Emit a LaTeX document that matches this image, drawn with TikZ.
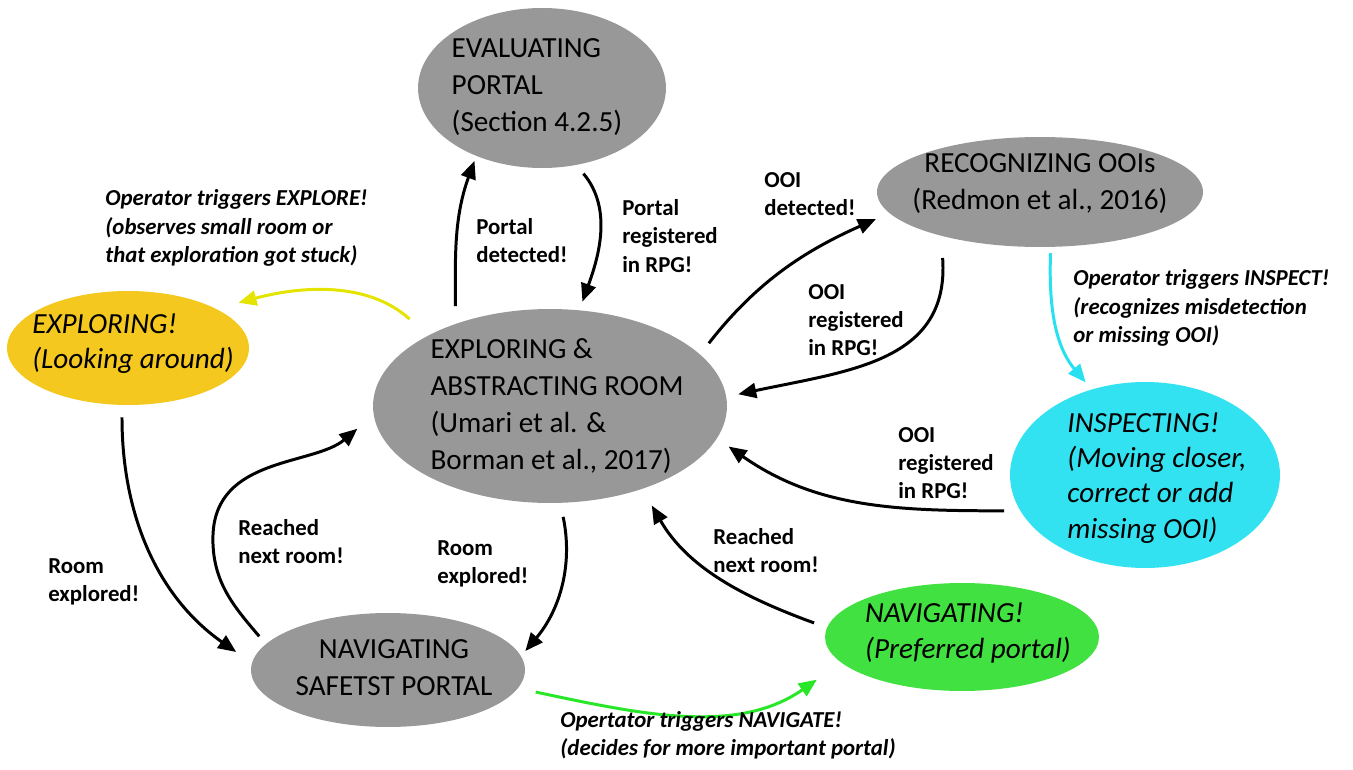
\documentclass[tikz,border=0pt]{standalone}
\usepackage{fontspec}
\setmainfont{Carlito}
\usetikzlibrary{shapes.geometric,arrows.meta}

\definecolor{stategray}{RGB}{152,152,152}
\definecolor{exploreyellow}{RGB}{244,200,30}
\definecolor{inspectcyan}{RGB}{50,226,240}
\definecolor{navgreen}{RGB}{64,225,64}
\definecolor{arrowyellow}{RGB}{228,228,0}
\definecolor{arrowcyan}{RGB}{40,225,240}
\definecolor{arrowgreen}{RGB}{40,230,40}

\tikzset{
	stateshape/.style={ellipse, draw=none, inner sep=0pt},
	statetext/.style={font=\fontsize{16.6}{21}\selectfont, align=left, inner sep=0pt},
	trans/.style={-{Triangle[length=0.36cm,width=0.3cm]}, line width=1.7pt},
	translabel/.style={font=\fontsize{13}{16}\selectfont\bfseries, align=left, anchor=west, inner sep=0pt},
	operatorlabel/.style={translabel, font=\fontsize{13}{16}\selectfont\bfseries\itshape},
}

\begin{document}
\begin{tikzpicture}[x=0.02cm, y=0.02cm]
		\useasboundingbox (0,0) rectangle (1353,769);

		\node[stateshape, fill=stategray, minimum width=4.96cm, minimum height=3.2cm] (eval) at (542,681) {};
		\node[statetext] (evaltext) at (537,682) {EVALUATING\\PORTAL\\(Section 4.2.5)};

		\node[stateshape, fill=stategray, minimum width=6.52cm, minimum height=2.2cm] (recog) at (1040,577) {};
		\node[statetext, align=center] (recogtext) at (1040,585) {RECOGNIZING OOIs\\(Redmon et al., 2016)};

		\node[stateshape, fill=exploreyellow, minimum width=4.84cm, minimum height=2.28cm] (explore) at (128,421) {};
		\node[statetext, font=\fontsize{16.6}{20}\selectfont\itshape] (exploretext) at (133,425) {EXPLORING!\\(Looking around)};

		\node[stateshape, fill=stategray, minimum width=7.08cm, minimum height=3.88cm] (room) at (550,363) {};
		\node[statetext] (roomtext) at (557,363) {EXPLORING \&\\ABSTRACTING ROOM\\(Umari et al. \&\\Borman et al., 2017)};

		\node[stateshape, fill=inspectcyan, minimum width=5.4cm, minimum height=3.72cm] (inspect) at (1145,294) {};
		\node[statetext, font=\fontsize{16.6}{20}\selectfont\itshape] (inspecttext) at (1157,291) {INSPECTING!\\(Moving closer,\\correct or add\\missing OOI)};

		\node[stateshape, fill=stategray, minimum width=5.48cm, minimum height=2.28cm] (safe) at (388,99) {};
		\node[statetext, align=center] (safetext) at (394,101) {NAVIGATING\\SAFETST PORTAL};

		\node[stateshape, fill=navgreen, minimum width=5.48cm, minimum height=2.16cm] (navig) at (962,132) {};
		\node[statetext, font=\fontsize{16.6}{20}\selectfont\itshape] (navigtext) at (968,136) {NAVIGATING!\\(Preferred portal)};

		\coordinate (reachedbend) at (213,234);

		\draw[trans, shorten <=0.35cm, shorten >=0.1cm] (room.139) to[out=90, in=-110] (eval.226);
		\draw[trans, shorten <=0.22cm, shorten >=0.18cm] (eval.-66) to[out=-50, in=70] (room.73);
		\draw[trans, shorten <=0.28cm, shorten >=0.29cm] (room.19) to[out=52, in=204] (recog.188);
		\draw[trans, shorten <=0.44cm, shorten >=0.24cm] (recog.204) to[out=-86, in=12, looseness=1.2] (room.3);
		\draw[trans, shorten <=0.32cm, shorten >=0.28cm] (inspect.196) to[out=180, in=-35] (room.-11);
		\draw[trans, shorten <=0.24cm, shorten >=0.38cm] (explore.264) to[out=-90, in=145] (safe.177);
		\draw[trans, shorten <=0.2cm, shorten >=0.42cm] (safe.168) to[out=130, in=-92] (reachedbend) to[out=88, in=220] (room.183);
		\draw[trans, shorten <=0.28cm, shorten >=0.13cm] (room.-84) to[out=-78, in=50] (safe.6);
		\draw[trans, shorten <=0.27cm, shorten >=0.38cm] (navig.176) to[out=160, in=-60] (room.-42);
		\draw[trans, arrowcyan, shorten <=0.12cm, shorten >=0.18cm] (recog.-79) to[out=-92, in=130] (inspect.122);
		\draw[trans, arrowyellow, shorten <=0.49cm, shorten >=0.46cm] (room.150) to[out=138, in=15] (explore.24);
		\draw[trans, arrowgreen, shorten <=0.36cm, shorten >=0.59cm] (safe.-8) to[out=-12, in=215] (navig.192);

		\node[translabel] (portaldet) at (476,528) {Portal\\detected!};
		\node[translabel] (portalreg) at (622,533) {Portal\\registered\\in RPG!};
		\node[translabel] (ooidet) at (764,575) {OOI\\detected!};
		\node[translabel] (ooiregtop) at (808,449) {OOI\\registered\\in RPG!};
		\node[translabel] (ooiregright) at (898,306) {OOI\\registered\\in RPG!};
		\node[translabel] (reachedleft) at (238,227) {Reached\\next room!};
		\node[translabel] (exploredmid) at (437,205) {Room\\explored!};
		\node[translabel] (exploredleft) at (48,187) {Room\\explored!};
		\node[translabel] (reachedright) at (713,218) {Reached\\next room!};
		\node[operatorlabel] (opexplore) at (105,541) {Operator triggers EXPLORE!\\(observes small room or\\that exploration got stuck)};
		\node[operatorlabel] (opinspect) at (1073,461) {Operator triggers INSPECT!\\(recognizes misdetection\\or missing OOI)};
		\node[operatorlabel] (opnavigate) at (560,34) {Opertator triggers NAVIGATE!\\(decides for more important portal)};
	\end{tikzpicture}
\end{document}
